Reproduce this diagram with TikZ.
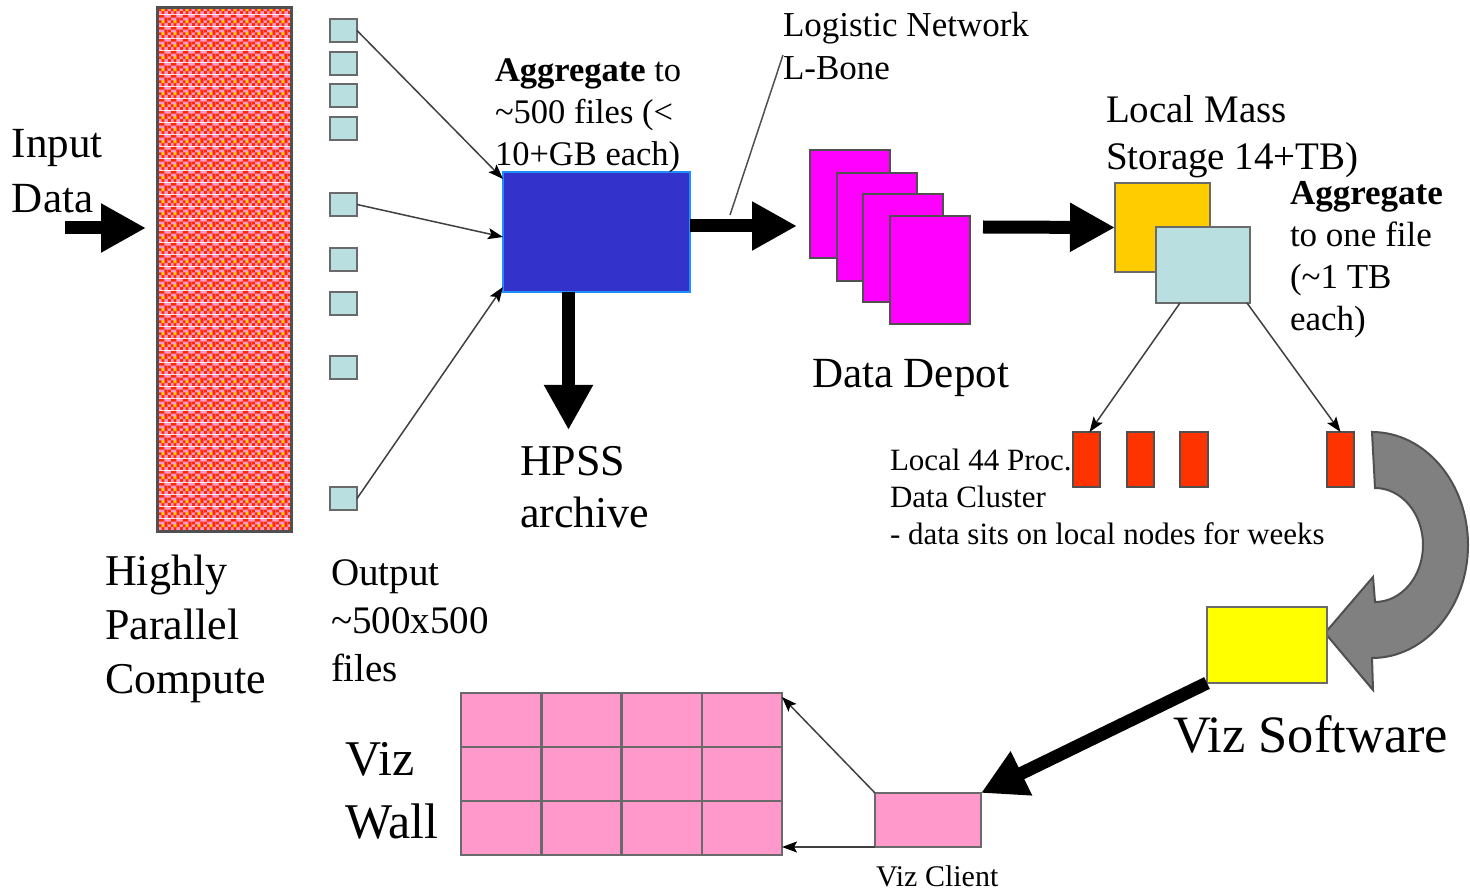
\documentclass[tikz,border=0pt]{standalone}
\usepackage{fontspec}
\setmainfont{Liberation Serif}
\usetikzlibrary{arrows.meta,calc,patterns}

\definecolor{pinkF}{HTML}{FF99CC}
\definecolor{redD}{HTML}{FF2A00}
\definecolor{yellowD}{HTML}{FFCC00}
\definecolor{fileblue}{HTML}{B9DFE1}
\definecolor{aggblue}{HTML}{3333CC}
\definecolor{aggedge}{HTML}{1E90FF}
\definecolor{magentaD}{HTML}{FF00FF}
\definecolor{storeorange}{HTML}{FFCC00}
\definecolor{nodered}{HTML}{FF3300}
\definecolor{vizyellow}{HTML}{FFFF00}
\definecolor{arrowgray}{HTML}{808080}
\definecolor{edgegray}{HTML}{6A6A6A}
\definecolor{edgedark}{HTML}{505050}
\definecolor{linkgray}{HTML}{404040}

% speckled fill of the compute block: 4x4 cells of 3pt
\newcommand{\speckcell}[2]{\pgfpathrectangle{\pgfpoint{#1*3pt}{#2*3pt}}{\pgfpoint{3pt}{3pt}}}
\pgfdeclarepatterninherentlycolored{computedots}
{\pgfpointorigin}{\pgfpoint{12pt}{12pt}}{\pgfpoint{12pt}{12pt}}
{
  \pgfsetfillcolor{pinkF}
  \pgfpathrectangle{\pgfpointorigin}{\pgfpoint{12pt}{12pt}}
  \pgfusepath{fill}
  \pgfsetfillcolor{redD}
  \speckcell{0}{0}\speckcell{2}{0}
  \speckcell{1}{1}\speckcell{3}{1}
  \speckcell{0}{2}\speckcell{3}{2}
  \speckcell{2}{3}\speckcell{1}{3}
  \pgfusepath{fill}
  \pgfsetfillcolor{yellowD}
  \speckcell{2}{1}
  \pgfusepath{fill}
}

\begin{document}
\begin{tikzpicture}[x=1pt,y=-1pt,
  box/.style={draw=edgegray, line width=2.5pt, inner sep=0pt, outer sep=0pt, anchor=north west},
  fileb/.style={box, fill=fileblue, minimum width=27pt, minimum height=23pt},
  page/.style={box, draw=edgedark, line width=2pt, fill=magentaD, minimum width=80pt, minimum height=108pt},
  procnode/.style={box, draw=edgedark, fill=nodered, minimum width=27pt, minimum height=55pt},
  link/.style={draw=linkgray, line width=1.5pt, -{Stealth[length=15pt,width=11pt,inset=3pt,color=black]}},
  bigarrow/.style={draw=black, line width=13pt, -{Triangle[length=45pt,width=46pt]}},
  gridline/.style={draw=edgegray, line width=2.5pt},
  txt/.style={anchor=base west, inner sep=0pt, outer sep=0pt, align=left, text=black}
]
\fill[white] (0,0) rectangle (1470,890);
\useasboundingbox (0,0) rectangle (1470,890);

% text nodes are placed by the baseline of their last line

% ---- compute stage
\node[box, draw=edgedark, line width=3pt, pattern=computedots,
      minimum width=134pt, minimum height=523pt] (compute) at (157,8) {};
\node[txt, font=\fontsize{43}{55}\selectfont] (input) at (12,213) {Input\\Data};
\node[txt, font=\fontsize{44}{54}\selectfont] (hpc) at (105,693) {Highly\\Parallel\\Compute};
\coordinate (inS) at (65,228);
\coordinate (inT) at (146,228);
\draw[bigarrow] (inS) -- (inT);

% ---- output files
\foreach \i/\y in {1/19,2/52,3/84,4/117,5/193,6/248,7/292,8/356,9/487}
  \node[fileb] (s\i) at (330,\y) {};
\node[txt, font=\fontsize{39}{48}\selectfont] (outp) at (331,681)
  {Output\\\textasciitilde500x500\\files};

% ---- aggregation
\node[box, draw=aggedge, line width=1.5pt, fill=aggblue,
      minimum width=187pt, minimum height=120pt] (agg) at (503,172) {};
\node[txt, font=\fontsize{34.5}{42}\selectfont] (aggtxt) at (495,166)
  {\textbf{Aggregate} to\\\textasciitilde500 files (<\\10+GB each)};
\draw[link] (s1.east) -- ($(agg.north west)+(0,7)$);
\draw[link] (s5.east) -- ($(agg.west)+(0,5)$);
\draw[link] (s9.east) -- ($(agg.south west)+(0,-5)$);

% ---- archive
\draw[bigarrow] ($(agg.south)+(-28,0)$) -- ++(0,138);
\node[txt, font=\fontsize{44}{52}\selectfont] (hpss) at (520,527) {HPSS\\archive};

% ---- logistic network to the depot
\node[txt, font=\fontsize{35}{43}\selectfont] (lnet) at (783,80) {Logistic Network\\L-Bone};
\coordinate (lbfoot) at (730,215);
\draw[draw=edgedark, line width=1.5pt] (lbfoot) -- ($(lnet.base west)+(0,-25)$);

\node[page] (p1) at (810,150) {};
\node[page] (p2) at (837,173) {};
\node[page] (p3) at (863,194) {};
\node[page] (p4) at (890,216) {};
\draw[bigarrow] ($(agg.east)+(0,-6)$) -- ($(agg.east -| p1.west)+(-13,-6)$);
\node[txt, font=\fontsize{43}{52}\selectfont] (depot) at (812,388) {Data Depot};

% ---- local mass storage
\node[box, fill=storeorange, minimum width=95pt, minimum height=89pt] (stor) at (1115,183) {};
\node[box, fill=fileblue, minimum width=94pt, minimum height=76pt] (tb) at (1156,227) {};
\draw[bigarrow] ($(p4.east)+(13,-43)$) -- (stor.west);
\node[txt, font=\fontsize{39}{47}\selectfont] (lms) at (1106,170) {Local Mass\\Storage 14+TB)};
\node[txt, font=\fontsize{35}{42}\selectfont] (agg2) at (1290,331)
  {\textbf{Aggregate}\\to one file\\(\textasciitilde1 TB\\each)};

% ---- data cluster
\node[procnode] (r1) at (1073,432) {};
\node[procnode] (r2) at (1127,432) {};
\node[procnode, minimum width=28pt] (r3) at (1180,432) {};
\node[procnode] (r4) at (1327,432) {};
\draw[link] ($(tb.south west)+(24,0)$) -- ($(r1.north)+(3,0)$);
\draw[link] ($(tb.south east)+(-3,0)$) -- (r4.north);
\node[txt, font=\fontsize{31}{37}\selectfont] (cluster) at (890,544)
  {Local 44 Proc.\\Data Cluster\\- data sits on local nodes for weeks};

% ---- curved transfer arrow to the viz software
\filldraw[fill=arrowgray, draw=edgedark, line width=2pt]
  (1372,432) arc[start angle=-90, end angle=90, x radius=96, y radius=113]
  -- (1373,690) -- (1325,633) -- (1373,577) -- (1375,602)
  arc[start angle=90, end angle=-90, x radius=48, y radius=57]
  -- cycle;

% ---- visualisation
\node[box, fill=vizyellow, minimum width=120pt, minimum height=76pt] (viz) at (1207,607) {};
\node[txt, font=\fontsize{52.5}{60}\selectfont] (vizsw) at (1173,752) {Viz Software};

\node[box, fill=pinkF, minimum width=106pt, minimum height=54pt] (client) at (875,793) {};
\node[txt, font=\fontsize{30}{36}\selectfont] (clienttxt) at (876,886) {Viz Client};
\draw[bigarrow] (viz.south west) -- (client.north east);

\node[box, fill=pinkF, minimum width=321pt, minimum height=162pt] (wall) at (461,693) {};
\foreach \f in {0.25,0.5,0.75}
  \draw[gridline] ($(wall.north west)!\f!(wall.north east)$) -- ($(wall.south west)!\f!(wall.south east)$);
\foreach \f in {0.333,0.667}
  \draw[gridline] ($(wall.north west)!\f!(wall.south west)$) -- ($(wall.north east)!\f!(wall.south east)$);
\node[txt, font=\fontsize{50}{63}\selectfont] (walltxt) at (345,838) {Viz\\Wall};
\draw[link] (client.north west) -- ($(wall.north east)+(0,4)$);
\draw[link] (client.south west) -- (client.south west -| wall.east);
\end{tikzpicture}
\end{document}
